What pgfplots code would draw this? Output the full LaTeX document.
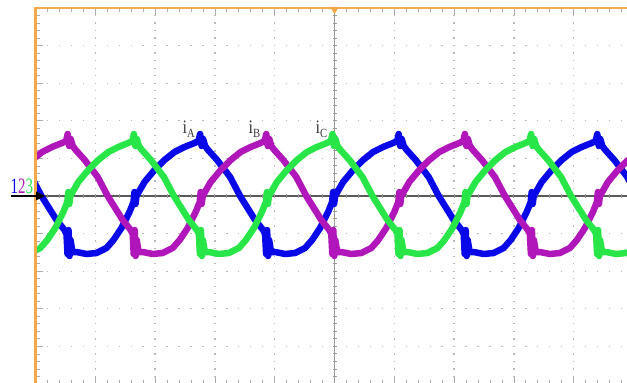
\documentclass[border=0pt]{standalone}
\usepackage{fontspec}
\setmainfont{Liberation Serif}
\usepackage{graphicx}
\usepackage{pgfplots}
\pgfplotsset{compat=1.18}
\definecolor{chA}{RGB}{8,8,232}
\definecolor{chB}{RGB}{176,22,186}
\definecolor{chC}{RGB}{40,230,72}
\definecolor{scopeorange}{RGB}{244,168,72}
\definecolor{griddot}{RGB}{185,185,185}
\definecolor{labelgray}{RGB}{55,55,55}
\begin{document}
\begin{tikzpicture}
\useasboundingbox (0,0) rectangle (627pt,383pt);
\clip (0,0) rectangle (627pt,383pt);
\begin{axis}[
  at={(334.5pt,187pt)}, anchor=center,
  scale only axis, width=598pt, height=376pt,
  xmin=35.5, xmax=633.5, ymin=8, ymax=384, y dir=reverse,
  axis line style={draw=none},
  xtick={35.5,95.3,155.1,214.9,274.7,334.5,394.3,454.1,513.9,573.7,633.5},
  ytick={8,45.6,83.2,120.8,158.4,196,233.6,271.2,308.8,346.4,384},
  minor x tick num=4, minor y tick num=4,
  xticklabels={}, yticklabels={},
  major tick length=7pt, minor tick length=4pt,
  tick style={gray!65, line width=0.8pt},
  xmajorgrids, ymajorgrids,
  major x grid style={griddot, line width=1.3pt, dash pattern=on 1.3pt off 6.22pt, dash phase=0.65pt},
  major y grid style={griddot, line width=1.3pt, dash pattern=on 1.3pt off 10.66pt, dash phase=0.65pt},
  clip=true,
]
% centre graticule lines
\draw[gray!80, line width=1pt] (334.5,8) -- (334.5,384);
\draw[gray!80, line width=4pt, dash pattern=on 0.9pt off 6.62pt, dash phase=0.45pt] (334.5,8) -- (334.5,384);
\draw[black!65, line width=1.1pt] (35.5,196) -- (633.5,196);
\draw[gray!80, line width=4pt, dash pattern=on 0.9pt off 11.06pt, dash phase=0.45pt] (35.5,196) -- (633.5,196);

% channel 1: i_A
\addplot[chA, line width=6.5pt, line join=round, line cap=round, no marks] coordinates {
(31.5,177) (41.5,196) (56.5,220) (64.5,230) (66.5,234) (67.5,254) (68.5,230) (69.5,256) (70.5,240) (72.5,252) (76.5,252) (86.5,254) (96.5,253) (106.5,248) (113.5,240) (121.5,228) (129.5,212) (133.5,202) (134.5,192) (135.5,204) (136.5,196) (144.5,182) (154.5,170) (164.5,160) (174.5,152) (184.5,147) (194.5,143) (198.5,141)
(200.1,134) (201.6,146) (203.1,139) (205.1,146) (208.1,150) (217.1,160) (230.1,177) (240.1,196) (255.1,220) (263.1,230) (265.1,234) (266.1,254) (267.1,230) (268.1,256) (269.1,240) (271.1,252) (275.1,252) (285.1,254) (295.1,253) (305.1,248) (312.1,240) (320.1,228) (328.1,212) (332.1,202) (333.1,192) (334.1,204) (335.1,196) (343.1,182) (353.1,170) (363.1,160) (373.1,152) (383.1,147) (393.1,143) (397.1,141)
(398.7,134) (400.2,146) (401.7,139) (403.7,146) (406.7,150) (415.7,160) (428.7,177) (438.7,196) (453.7,220) (461.7,230) (463.7,234) (464.7,254) (465.7,230) (466.7,256) (467.7,240) (469.7,252) (473.7,252) (483.7,254) (493.7,253) (503.7,248) (510.7,240) (518.7,228) (526.7,212) (530.7,202) (531.7,192) (532.7,204) (533.7,196) (541.7,182) (551.7,170) (561.7,160) (571.7,152) (581.7,147) (591.7,143) (595.7,141)
(597.3,134) (598.8,146) (600.3,139) (602.3,146) (605.3,150) (614.3,160) (627.3,177) (637.3,196)
};
% channel 2: i_B
\addplot[chB, line width=6.5pt, line join=round, line cap=round, no marks] coordinates {
(32.1,160) (42.1,152) (52.1,147) (62.1,143) (66.1,141)
(67.7,134) (69.2,146) (70.7,139) (72.7,146) (75.7,150) (84.7,160) (97.7,177) (107.7,196) (122.7,220) (130.7,230) (132.7,234) (133.7,254) (134.7,230) (135.7,256) (136.7,240) (138.7,252) (142.7,252) (152.7,254) (162.7,253) (172.7,248) (179.7,240) (187.7,228) (195.7,212) (199.7,202) (200.7,192) (201.7,204) (202.7,196) (210.7,182) (220.7,170) (230.7,160) (240.7,152) (250.7,147) (260.7,143) (264.7,141)
(266.3,134) (267.8,146) (269.3,139) (271.3,146) (274.3,150) (283.3,160) (296.3,177) (306.3,196) (321.3,220) (329.3,230) (331.3,234) (332.3,254) (333.3,230) (334.3,256) (335.3,240) (337.3,252) (341.3,252) (351.3,254) (361.3,253) (371.3,248) (378.3,240) (386.3,228) (394.3,212) (398.3,202) (399.3,192) (400.3,204) (401.3,196) (409.3,182) (419.3,170) (429.3,160) (439.3,152) (449.3,147) (459.3,143) (463.3,141)
(464.9,134) (466.4,146) (467.9,139) (469.9,146) (472.9,150) (481.9,160) (494.9,177) (504.9,196) (519.9,220) (527.9,230) (529.9,234) (530.9,254) (531.9,230) (532.9,256) (533.9,240) (535.9,252) (539.9,252) (549.9,254) (559.9,253) (569.9,248) (576.9,240) (584.9,228) (592.9,212) (596.9,202) (597.9,192) (598.9,204) (599.9,196) (607.9,182) (617.9,170) (627.9,160)
};
% channel 3: i_C
\addplot[chC, line width=6.5pt, line join=round, line cap=round, no marks] coordinates {
(30.3,253) (40.3,248) (47.3,240) (55.3,228) (63.3,212) (67.3,202) (68.3,192) (69.3,204) (70.3,196) (78.3,182) (88.3,170) (98.3,160) (108.3,152) (118.3,147) (128.3,143) (132.3,141)
(133.9,134) (135.4,146) (136.9,139) (138.9,146) (141.9,150) (150.9,160) (163.9,177) (173.9,196) (188.9,220) (196.9,230) (198.9,234) (199.9,254) (200.9,230) (201.9,256) (202.9,240) (204.9,252) (208.9,252) (218.9,254) (228.9,253) (238.9,248) (245.9,240) (253.9,228) (261.9,212) (265.9,202) (266.9,192) (267.9,204) (268.9,196) (276.9,182) (286.9,170) (296.9,160) (306.9,152) (316.9,147) (326.9,143) (330.9,141)
(332.5,134) (334,146) (335.5,139) (337.5,146) (340.5,150) (349.5,160) (362.5,177) (372.5,196) (387.5,220) (395.5,230) (397.5,234) (398.5,254) (399.5,230) (400.5,256) (401.5,240) (403.5,252) (407.5,252) (417.5,254) (427.5,253) (437.5,248) (444.5,240) (452.5,228) (460.5,212) (464.5,202) (465.5,192) (466.5,204) (467.5,196) (475.5,182) (485.5,170) (495.5,160) (505.5,152) (515.5,147) (525.5,143) (529.5,141)
(531.1,134) (532.6,146) (534.1,139) (536.1,146) (539.1,150) (548.1,160) (561.1,177) (571.1,196) (586.1,220) (594.1,230) (596.1,234) (597.1,254) (598.1,230) (599.1,256) (600.1,240) (602.1,252) (606.1,252) (616.1,254) (626.1,253) (636.1,248)
};
\end{axis}
% screen border (orange) and trigger marker
\draw[scopeorange, line width=2.5pt] (35.5pt,-2pt) -- (35.5pt,375pt) -- (640pt,375pt);
\fill[scopeorange] (330pt,376pt) -- (339pt,376pt) -- (334.5pt,369pt) -- cycle;
% ground reference arrow
\draw[black, line width=1.6pt] (11pt,187pt) -- (37pt,187pt);
\fill[black] (36pt,191.5pt) -- (45pt,187pt) -- (36pt,182.5pt) -- cycle;
% channel numbers
\node[anchor=base west, inner sep=0pt] at (10.5pt,189pt)
  {\scalebox{0.68}[1]{\fontsize{22}{22}\selectfont\textcolor{chA}{1}\textcolor{chB}{2}\textcolor{chC}{3}}};
% trace labels
\node[anchor=base west, inner sep=0pt, text=labelgray] at (182.5pt,249pt)
  {\scalebox{0.85}[1]{\fontsize{19}{19}\selectfont i\raisebox{-0.2em}{\fontsize{12.5}{12.5}\selectfont A}}};
\node[anchor=base west, inner sep=0pt, text=labelgray] at (248.5pt,249pt)
  {\scalebox{0.85}[1]{\fontsize{19}{19}\selectfont i\raisebox{-0.2em}{\fontsize{12.5}{12.5}\selectfont B}}};
\node[anchor=base west, inner sep=0pt, text=labelgray] at (315.5pt,249pt)
  {\scalebox{0.85}[1]{\fontsize{19}{19}\selectfont i\raisebox{-0.2em}{\fontsize{12.5}{12.5}\selectfont C}}};
\end{tikzpicture}
\end{document}
